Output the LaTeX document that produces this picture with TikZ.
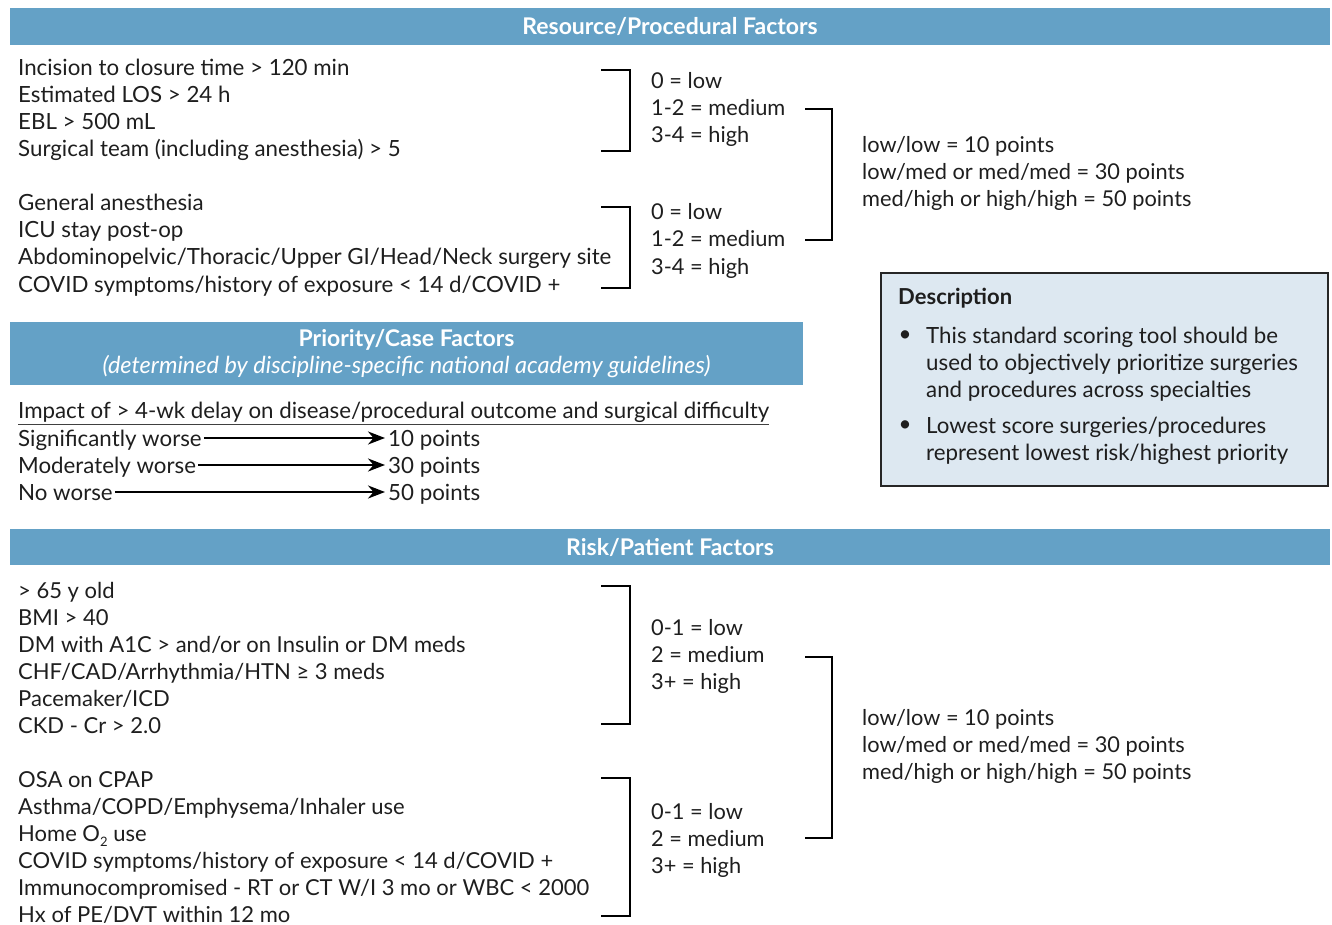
\documentclass[tikz,border=0pt]{standalone}
\usepackage{fontspec}
\setmainfont{Lato}
\usetikzlibrary{arrows.meta}
\definecolor{barblue}{HTML}{64A1C6}
\definecolor{descfill}{HTML}{DDE8F1}
\definecolor{ink}{HTML}{1E1E1E}
\newcommand{\lowsub}[1]{\raisebox{-5pt}{\fontsize{13}{13}\selectfont #1}}

\begin{document}
\begin{tikzpicture}[x=1pt, y=-1pt,
  every node/.style={inner sep=0pt, text=ink, font=\fontsize{22.3}{27}\selectfont},
  item/.style={anchor=base west},
  riskitem/.style={anchor=base west, font=\fontsize{22}{27}\selectfont},
  lbl/.style={anchor=base west, font=\fontsize{21.8}{27}\selectfont},
  hdr/.style={fill=barblue, text=white, align=center,
    font=\fontsize{23}{27}\selectfont\bfseries},
  brk/.style={draw=black, line width=2.8pt},
  arr/.style={draw=black, line width=2.4pt, -{Stealth[length=17pt,width=13pt]}},
  descbox/.style={draw=black!85, fill=descfill, line width=2.5pt}]

\useasboundingbox (0,0) rectangle (1332,925);

% header bars
\node[hdr, minimum width=1320pt, minimum height=37pt] (resHdr) at (670,26.5) {Resource/Procedural Factors};
\node[hdr, minimum width=793pt, minimum height=63pt] (prioHdr) at (406.5,353.5)
  {Priority/Case Factors\\{\normalfont\fontsize{23.5}{27}\selectfont\itshape\color{white}(determined by discipline-specific national academy guidelines)}};
\node[hdr, minimum width=1320pt, minimum height=36pt] (riskHdr) at (670,547) {Risk/Patient Factors};

% resource factors
\foreach \t [count=\i] in {Incision to closure time > 120 min, Estimated LOS > 24 h, EBL > 500 mL,
    Surgical team (including anesthesia) > 5}
  \node[item] (ra\i) at (18,{76+27*(\i-1)}) {\t};
\foreach \t [count=\i] in {General anesthesia, ICU stay post-op,
    Abdominopelvic/Thoracic/Upper GI/Head/Neck surgery site,
    COVID symptoms/history of exposure < 14 d/COVID +}
  \node[item] (rb\i) at (18,{211+27*(\i-1)}) {\t};
\foreach \t [count=\i] in {0 = low, 1-2 = medium, 3-4 = high} {
  \node[lbl] (la\i) at (651,{89+27*(\i-1)}) {\t};
  \node[lbl] (lb\i) at (651,{220+27*(\i-1)}) {\t};
}
\foreach \t [count=\i] in {low/low = 10 points, low/med or med/med = 30 points,
    med/high or high/high = 50 points}
  \node[lbl] (rp\i) at (862,{153+27*(\i-1)}) {\t};

\coordinate (ba) at (601,70);   \coordinate (baEnd) at (601,151);
\coordinate (bb) at (601,207);  \coordinate (bbEnd) at (601,288);
\coordinate (bR) at (805,109);  \coordinate (bREnd) at (805,240);
\draw[brk] (ba) -- ++(29,0) |- (baEnd);
\draw[brk] (bb) -- ++(29,0) |- (bbEnd);
\draw[brk] (bR) -- ++(27,0) |- (bREnd);

% description
\node[descbox, minimum width=447pt, minimum height=213pt] (desc) at (1104.5,379.5) {};
\node[item, font=\fontsize{22}{27}\selectfont\bfseries] (descT) at (898,304) {Description};
\node (bul1) at (905,336) {\textbullet};
\node (bul2) at (905,426) {\textbullet};
\foreach \t [count=\i] in {This standard scoring tool should be,
    used to objectively prioritize surgeries, and procedures across specialties}
  \node[item] (da\i) at (926,{343+27*(\i-1)}) {\t};
\foreach \t [count=\i] in {Lowest score surgeries/procedures,
    represent lowest risk/highest priority}
  \node[item] (db\i) at (926,{433+27*(\i-1)}) {\t};

% priority factors
\node[item] (impact) at (18,418) {Impact of > 4-wk delay on disease/procedural outcome and surgical difficulty};
\draw[line width=1pt, black!75] (18,424) -- (769,424);
\node[item] (sig) at (18,446) {Significantly worse};
\node[item] (mod) at (18,473) {Moderately worse};
\node[item] (nw) at (18,500) {No worse};
\node[item] (p10) at (388,446) {10 points};
\node[item] (p30) at (388,473) {30 points};
\node[item] (p50) at (388,500) {50 points};
\foreach \a/\b in {sig/p10, mod/p30, nw/p50}
  \draw[arr] ([shift={(2pt,8pt)}]\a.base east) -- ([shift={(-3pt,8pt)}]\b.base west);

% risk factors
\foreach \t [count=\i] in {> 65 y old, BMI > 40, DM with A1C > and/or on Insulin or DM meds,
    CHF/CAD/Arrhythmia/HTN ≥ 3 meds, Pacemaker/ICD, CKD - Cr > 2.0}
  \node[riskitem] (ka\i) at (18,{598+27*(\i-1)}) {\t};
\foreach \t [count=\i] in {OSA on CPAP, Asthma/COPD/Emphysema/Inhaler use, Home O\lowsub{2} use,
    COVID symptoms/history of exposure < 14 d/COVID +,
    Immunocompromised - RT or CT W/I 3 mo or WBC < 2000, Hx of PE/DVT within 12 mo}
  \node[riskitem] (kb\i) at (18,{787+27*(\i-1)}) {\t};
\foreach \t [count=\i] in {0-1 = low, 2 = medium, 3+ = high} {
  \node[lbl] (lc\i) at (651,{635+27*(\i-1)}) {\t};
  \node[lbl] (ld\i) at (651,{819+27*(\i-1)}) {\t};
}
\foreach \t [count=\i] in {low/low = 10 points, low/med or med/med = 30 points,
    med/high or high/high = 50 points}
  \node[lbl] (kp\i) at (862,{725+27*(\i-1)}) {\t};

\coordinate (bc) at (601,586);  \coordinate (bcEnd) at (601,724);
\coordinate (bd) at (601,778);  \coordinate (bdEnd) at (601,916);
\coordinate (bK) at (805,657);  \coordinate (bKEnd) at (805,838);
\draw[brk] (bc) -- ++(29,0) |- (bcEnd);
\draw[brk] (bd) -- ++(29,0) |- (bdEnd);
\draw[brk] (bK) -- ++(27,0) |- (bKEnd);
\end{tikzpicture}
\end{document}
